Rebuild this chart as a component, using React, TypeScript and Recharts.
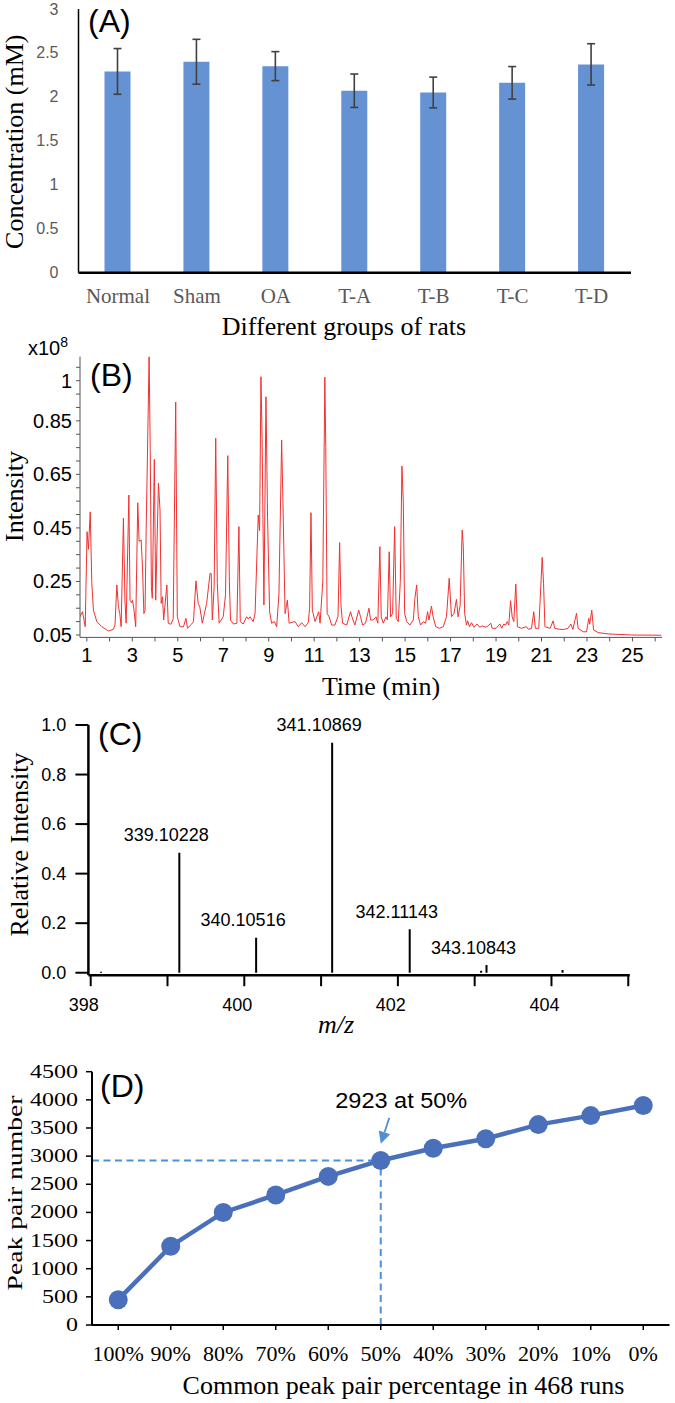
import React from 'react';
import {
  BarChart, Bar, XAxis, YAxis, ErrorBar, LineChart, Line, ComposedChart,
  ReferenceLine, ReferenceDot, LabelList,
} from 'recharts';

const SERIF = '"Liberation Serif", "Times New Roman", serif';
const SANS = '"Liberation Sans", Arial, sans-serif';

// ---------- Panel A ----------
const ratGroups = ['Normal', 'Sham', 'OA', 'T-A', 'T-B', 'T-C', 'T-D'];
const concMean = [2.29, 2.4, 2.35, 2.07, 2.05, 2.16, 2.37];
const concErr = [0.26, 0.255, 0.165, 0.19, 0.175, 0.185, 0.235];
const concTicks = [0, 0.5, 1, 1.5, 2, 2.5, 3];

// ---------- Panel B ----------
const ticPoints: [number, number][] = [
  [0.7, 0.118], [0.81, 0.137], [0.93, 0.081], [1.01, 0.436], [1.07, 0.37], [1.15, 0.51],
  [1.22, 0.243], [1.29, 0.143], [1.44, 0.1], [1.66, 0.081], [1.95, 0.065], [2.17, 0.071],
  [2.24, 0.087], [2.32, 0.237], [2.39, 0.156], [2.45, 0.13], [2.51, 0.081], [2.61, 0.486],
  [2.68, 0.17], [2.73, 0.094], [2.85, 0.573], [2.9, 0.18], [2.97, 0.17], [3.01, 0.18],
  [3.08, 0.14], [3.15, 0.081], [3.24, 0.544], [3.3, 0.4], [3.39, 0.405], [3.45, 0.3],
  [3.51, 0.13], [3.56, 0.14], [3.61, 0.44], [3.74, 1.09], [3.79, 0.74], [3.84, 0.23],
  [3.88, 0.187], [3.97, 0.706], [4.03, 0.18], [4.15, 0.617], [4.22, 0.517], [4.27, 0.168],
  [4.33, 0.193], [4.38, 0.106], [4.52, 0.237], [4.58, 0.094], [4.7, 0.09], [4.8, 0.11],
  [4.91, 0.92], [4.98, 0.118], [5.1, 0.081], [5.25, 0.081], [5.36, 0.112], [5.43, 0.075],
  [5.6, 0.09], [5.69, 0.1], [5.8, 0.252], [5.9, 0.168], [5.97, 0.155], [6.08, 0.094],
  [6.27, 0.168], [6.42, 0.28], [6.47, 0.28], [6.52, 0.106], [6.6, 0.23], [6.67, 0.785],
  [6.74, 0.243], [6.82, 0.094], [7.0, 0.118], [7.1, 0.2], [7.2, 0.72], [7.27, 0.25],
  [7.32, 0.106], [7.45, 0.091], [7.6, 0.094], [7.69, 0.455], [7.75, 0.1], [7.88, 0.091],
  [8.03, 0.118], [8.1, 0.11], [8.18, 0.118], [8.32, 0.1], [8.4, 0.13], [8.54, 0.498],
  [8.6, 0.44], [8.66, 1.015], [8.71, 0.78], [8.79, 0.162], [8.88, 0.94], [8.95, 0.49],
  [9.04, 0.137], [9.13, 0.094], [9.25, 0.1], [9.35, 0.081], [9.45, 0.2], [9.57, 0.778],
  [9.64, 0.49], [9.72, 0.13], [9.82, 0.18], [9.9, 0.094], [10.16, 0.1], [10.3, 0.081],
  [10.45, 0.096], [10.6, 0.081], [10.74, 0.096], [10.8, 0.15], [10.86, 0.507], [10.92, 0.143],
  [11.04, 0.1], [11.2, 0.137], [11.26, 0.094], [11.38, 0.25], [11.47, 1.013], [11.51, 0.75],
  [11.57, 0.13], [11.66, 0.118], [11.77, 0.087], [11.91, 0.087], [12.05, 0.12], [12.12, 0.395],
  [12.18, 0.16], [12.25, 0.094], [12.43, 0.087], [12.6, 0.137], [12.66, 0.118], [12.79, 0.087],
  [12.96, 0.143], [13.04, 0.118], [13.13, 0.087], [13.26, 0.094], [13.41, 0.15], [13.48, 0.106],
  [13.6, 0.106], [13.72, 0.118], [13.8, 0.094], [13.89, 0.38], [13.95, 0.118], [14.04, 0.094],
  [14.16, 0.118], [14.22, 0.106], [14.3, 0.361], [14.36, 0.118], [14.45, 0.13], [14.54, 0.455],
  [14.61, 0.112], [14.7, 0.1], [14.79, 0.25], [14.86, 0.681], [14.92, 0.55], [14.98, 0.13],
  [15.07, 0.1], [15.21, 0.087], [15.36, 0.106], [15.43, 0.187], [15.51, 0.237], [15.58, 0.118],
  [15.68, 0.087], [15.8, 0.1], [15.9, 0.094], [15.99, 0.137], [16.05, 0.106], [16.16, 0.158],
  [16.23, 0.118], [16.35, 0.081], [16.5, 0.075], [16.68, 0.081], [16.82, 0.118], [16.94, 0.262],
  [17.04, 0.118], [17.15, 0.13], [17.26, 0.183], [17.33, 0.118], [17.42, 0.16], [17.51, 0.442],
  [17.56, 0.38], [17.62, 0.13], [17.7, 0.087], [17.75, 0.103], [17.83, 0.081], [17.92, 0.096],
  [18.03, 0.079], [18.17, 0.091], [18.28, 0.079], [18.39, 0.084], [18.55, 0.079], [18.65, 0.084],
  [18.77, 0.094], [18.83, 0.075], [19.0, 0.075], [19.17, 0.091], [19.25, 0.075], [19.34, 0.091],
  [19.42, 0.087], [19.49, 0.1], [19.56, 0.087], [19.64, 0.178], [19.71, 0.118], [19.78, 0.1],
  [19.87, 0.24], [19.94, 0.081], [20.12, 0.075], [20.34, 0.081], [20.42, 0.071], [20.56, 0.075],
  [20.66, 0.137], [20.73, 0.075], [20.88, 0.075], [21.03, 0.34], [21.09, 0.243], [21.15, 0.081],
  [21.38, 0.075], [21.51, 0.103], [21.58, 0.075], [21.8, 0.071], [22.0, 0.071], [22.17, 0.075],
  [22.29, 0.091], [22.38, 0.071], [22.54, 0.131], [22.61, 0.075], [22.83, 0.062], [22.98, 0.062],
  [23.08, 0.112], [23.12, 0.09], [23.21, 0.143], [23.29, 0.069], [23.49, 0.059], [23.93, 0.054],
  [24.96, 0.05], [26.27, 0.049],
];
const timeTicks = [1, 2, 3, 4, 5, 6, 7, 8, 9, 10, 11, 12, 13, 14, 15, 16, 17, 18, 19, 20, 21, 22, 23, 24, 25, 26];
const timeLabelled = [1, 3, 5, 7, 9, 11, 13, 15, 17, 19, 21, 23, 25];
const intensityTicks = [0.05, 0.1, 0.15, 0.2, 0.25, 0.3, 0.35, 0.4, 0.45, 0.5, 0.55, 0.6, 0.65, 0.7, 0.75, 0.8, 0.85, 0.9, 0.95, 1, 1.05];
const intensityLabelled = ['0.05', '0.25', '0.45', '0.65', '0.85', '1'];

// ---------- Panel C ----------
const mzValues = [398.13, 399.15, 400.15, 401.14, 402.15, 403.08, 403.15, 404.14];
const mzRelInt = [0.004, 0.484, 0.141, 0.928, 0.175, 0.008, 0.031, 0.011];
const mzLabels = ['', '339.10228', '340.10516', '341.10869', '342.11143', '', '343.10843', ''];
const mzTicks = [398, 399, 400, 401, 402, 403, 404, 405];
const mzLabelled = [398, 400, 402, 404];
const relTicks = [0, 0.2, 0.4, 0.6, 0.8, 1];

// ---------- Panel D ----------
const pctCats = ['100%', '90%', '80%', '70%', '60%', '50%', '40%', '30%', '20%', '10%', '0%'];
const pairCounts = [450, 1400, 2000, 2310, 2640, 2923, 3140, 3310, 3560, 3720, 3900];
const pairTicks = [0, 500, 1000, 1500, 2000, 2500, 3000, 3500, 4000, 4500];
const highlightCat = '50%';
const highlightValue = 2923;
const highlightText = '2923 at 50%';

const barData = ratGroups.map((g, i) => ({ group: g, mean: concMean[i], err: concErr[i] }));
const ticData = ticPoints.map(([t, v]) => ({ t, v }));
const msData = mzValues.map((mz, i) => ({ mz, ri: mzRelInt[i], label: mzLabels[i] }));
const pairData = pctCats.map((p, i) => ({ pct: p, count: pairCounts[i] }));

const BAR_BLUE = '#6592d3';
const LINE_BLUE = '#4a70bb';
const DASH_BLUE = '#4f8fda';

// ---------- tick renderers ----------
const AXTick = (p: any) => (
  <text x={p.x} y={p.y + 30} textAnchor="middle" fontFamily={SERIF} fontSize={21} fill="#595959">
    {p.payload.value}
  </text>
);
const AYTick = (p: any) => (
  <text x={p.x - 20} y={p.y} textAnchor="end" dominantBaseline="central" fontFamily={SANS} fontSize={16} fill="#595959">
    {String(p.payload.value)}
  </text>
);
const BXTick = (p: any) =>
  timeLabelled.includes(p.payload.value) ? (
    <text x={p.x} y={p.y + 21} textAnchor="middle" fontFamily={SANS} fontSize={20} fill="#000">
      {String(p.payload.value)}
    </text>
  ) : <g />;
const BYTick = (p: any) => {
  const s = String(Math.round(p.payload.value * 100) / 100);
  return intensityLabelled.includes(s) ? (
    <text x={p.x - 4} y={p.y} textAnchor="end" dominantBaseline="central" fontFamily={SANS} fontSize={20} fill="#000">
      {s}
    </text>
  ) : <g />;
};
const CXTick = (p: any) =>
  mzLabelled.includes(p.payload.value) ? (
    <text x={p.x - 7} y={p.y + 25} textAnchor="middle" fontFamily={SANS} fontSize={18} fill="#000">
      {String(p.payload.value)}
    </text>
  ) : <g />;
const CYTick = (p: any) => (
  <text x={p.x - 9} y={p.y} textAnchor="end" dominantBaseline="central" fontFamily={SANS} fontSize={18} fill="#000">
    {Number(p.payload.value).toFixed(1)}
  </text>
);
const DXTick = (p: any) => (
  <text x={p.x} y={p.y + 31} textAnchor="middle" fontFamily={SERIF} fontSize={22} fill="#000">
    {p.payload.value}
  </text>
);
const DYTick = (p: any) => {
  const s = String(p.payload.value);
  return (
    <text x={p.x - 8} y={p.y} textAnchor="end" dominantBaseline="central" fontFamily={SERIF} fontSize={18}
      fill="#000" textLength={s.length * 12} lengthAdjust="spacingAndGlyphs">
      {s}
    </text>
  );
};

const MsLabel = (p: any) => {
  if (!p.value) return <g />;
  const cx = p.x + p.width / 2 - 13;
  return (
    <text x={cx} y={p.y - 11.5} textAnchor="middle" fontFamily={SANS} fontSize={18} fill="#000">
      {p.value}
    </text>
  );
};

const HalfDash = (p: any) => {
  const idx = pctCats.indexOf(highlightCat);
  const f = (idx + 0.5) / pctCats.length;
  const xEnd = p.x1 + f * (p.x2 - p.x1);
  return <line x1={p.x1} y1={p.y1} x2={xEnd} y2={p.y2} stroke={DASH_BLUE} strokeWidth={2} strokeDasharray="7 4.5" />;
};

const Annotation = (p: any) => {
  const vb = p.viewBox || {};
  const cx = vb.x + (vb.width || 0) / 2;
  const cy = vb.y + (vb.height || 0) / 2;
  const tipX = cx, tipY = cy - 16.6;
  const sx = cx + 8.5, sy = cy - 42.6;
  const dx = tipX - sx, dy = tipY - sy;
  const len = Math.hypot(dx, dy);
  const ux = dx / len, uy = dy / len;
  const bx = tipX - ux * 12, by = tipY - uy * 12;
  const px = -uy, py = ux;
  return (
    <g>
      <line x1={sx} y1={sy} x2={bx} y2={by} stroke={DASH_BLUE} strokeWidth={1.8} />
      <polygon
        points={`${tipX},${tipY} ${bx + px * 6},${by + py * 6} ${bx - px * 6},${by - py * 6}`}
        fill={DASH_BLUE}
      />
      <text x={cx + 20.5} y={cy - 52} textAnchor="middle" fontFamily={SANS} fontSize={22} fill="#000"
        textLength={132} lengthAdjust="spacingAndGlyphs">
        {highlightText}
      </text>
    </g>
  );
};

const abs = (top: number): React.CSSProperties => ({ position: 'absolute', left: 0, top });

export default function App() {
  return (
    <div style={{ position: 'absolute', left: 0, top: 0, width: 675, height: 1403, overflow: 'hidden', background: '#fff' }}>
      {/* Panel A */}
      <div style={abs(0)}>
        <BarChart width={675} height={345} data={barData} margin={{ top: 9, right: 44, left: 0, bottom: 0 }}>
          <XAxis dataKey="group" height={72.3} tickLine={false} tickSize={0} tickMargin={0}
            axisLine={{ stroke: '#000', strokeWidth: 2.5 }} tick={AXTick} interval={0} />
          <YAxis width={78.5} domain={[0, 3]} ticks={concTicks} tickLine={false} tickSize={0} tickMargin={0}
            axisLine={{ stroke: '#000', strokeWidth: 1.5 }} tick={AYTick} interval={0} />
          <Bar dataKey="mean" fill={BAR_BLUE} barSize={26} isAnimationActive={false}>
            <ErrorBar dataKey="err" width={4} stroke="#404040" strokeWidth={1.6} isAnimationActive={false} />
          </Bar>
        </BarChart>
      </div>

      {/* Panel B */}
      <div style={abs(340)}>
        <LineChart width={675} height={340} data={ticData} margin={{ top: 16.6, right: 13, left: 0, bottom: 12.6 }}>
          <XAxis type="number" dataKey="t" domain={[0.7, 26.3]} allowDataOverflow ticks={timeTicks} interval={0}
            height={30} tickSize={4} tickMargin={0} tickLine={{ stroke: '#555' }}
            axisLine={{ stroke: '#555', strokeWidth: 1 }} tick={BXTick} />
          <YAxis type="number" domain={[0.041, 1.09]} allowDataOverflow ticks={intensityTicks} interval={0}
            width={80} tickSize={4} tickMargin={0} tickLine={{ stroke: '#555' }}
            axisLine={{ stroke: '#555', strokeWidth: 1 }} tick={BYTick} />
          <Line type="linear" dataKey="v" stroke="#f23030" strokeWidth={1} dot={false} isAnimationActive={false} />
        </LineChart>
      </div>

      {/* Panel C */}
      <div style={abs(680)}>
        <ComposedChart width={675} height={365} data={msData} margin={{ top: 45, right: 45.2, left: 0, bottom: 29.8 }}>
          <XAxis type="number" dataKey="mz" domain={[397.97, 405.02]} allowDataOverflow ticks={mzTicks} interval={0}
            height={40} tickSize={11} tickMargin={0} tickLine={{ stroke: '#000', strokeWidth: 2 }}
            axisLine={{ stroke: '#000', strokeWidth: 2.5 }} tick={CXTick} />
          <YAxis type="number" domain={[-0.01, 1]} allowDataOverflow ticks={relTicks} interval={0}
            width={88.4} tickSize={13} tickMargin={0} tickLine={{ stroke: '#000', strokeWidth: 2 }}
            axisLine={{ stroke: '#000', strokeWidth: 2.5 }} tick={CYTick} />
          <Bar dataKey="ri" fill="#000" barSize={2} isAnimationActive={false}>
            <LabelList dataKey="label" content={MsLabel} />
          </Bar>
        </ComposedChart>
      </div>

      {/* Panel D */}
      <div style={abs(1045)}>
        <LineChart width={675} height={358} data={pairData} margin={{ top: 26.7, right: 5.5, left: 0, bottom: 28 }}>
          <XAxis dataKey="pct" height={50} tickSize={5} tickMargin={0} interval={0} padding={{ left: 26.25, right: 26.25 }}
            tickLine={{ stroke: '#000', strokeWidth: 1.5 }} axisLine={{ stroke: '#000', strokeWidth: 2 }} tick={DXTick} />
          <YAxis domain={[0, 4500]} ticks={pairTicks} interval={0} width={92} tickSize={6} tickMargin={0}
            tickLine={{ stroke: '#000', strokeWidth: 1.5 }} axisLine={{ stroke: '#000', strokeWidth: 2 }} tick={DYTick} />
          <ReferenceLine y={highlightValue} shape={HalfDash} />
          <ReferenceLine segment={[{ x: highlightCat, y: 0 }, { x: highlightCat, y: highlightValue }]}
            stroke={DASH_BLUE} strokeWidth={2} strokeDasharray="7 4.5" />
          <Line type="linear" dataKey="count" stroke={LINE_BLUE} strokeWidth={4.5}
            dot={{ r: 9.5, fill: LINE_BLUE, stroke: LINE_BLUE, strokeWidth: 0 }} isAnimationActive={false} />
          <ReferenceDot x={highlightCat} y={highlightValue} r={9} fill="none" stroke="none" label={Annotation} />
        </LineChart>
      </div>

      {/* Titles & panel letters */}
      <svg width={675} height={1403} style={{ position: 'absolute', left: 0, top: 0, pointerEvents: 'none' }}>
        <text x={88} y={32} fontFamily={SANS} fontSize={32} fill="#000">(A)</text>
        <text x={23} y={141.7} transform="rotate(-90 23 141.7)" textAnchor="middle" fontFamily={SERIF} fontSize={26} fill="#000">
          Concentration (mM)
        </text>
        <text x={344} y={335} textAnchor="middle" fontFamily={SERIF} fontSize={26} fill="#000">Different groups of rats</text>

        <text x={28} y={355} fontFamily={SANS} fontSize={20} fill="#000">
          x10<tspan fontSize={14} dy={-8}>8</tspan>
        </text>
        <text x={90} y={386} fontFamily={SANS} fontSize={32} fill="#000">(B)</text>
        <text x={23} y={496.5} transform="rotate(-90 23 496.5)" textAnchor="middle" fontFamily={SERIF} fontSize={26} fill="#000">
          Intensity
        </text>
        <text x={381} y={695} textAnchor="middle" fontFamily={SERIF} fontSize={26} fill="#000">Time (min)</text>

        <text x={98} y={745} fontFamily={SANS} fontSize={32} fill="#000">(C)</text>
        <text x={28} y={844.5} transform="rotate(-90 28 844.5)" textAnchor="middle" fontFamily={SERIF} fontSize={26} fill="#000">
          Relative Intensity
        </text>
        <text x={336} y={1033} textAnchor="middle" fontFamily={SERIF} fontStyle="italic" fontSize={26} fill="#000">m/z</text>

        <text x={100} y={1097} fontFamily={SANS} fontSize={32} fill="#000">(D)</text>
        <text x={22} y={1193} transform="rotate(-90 22 1193)" textAnchor="middle" fontFamily={SERIF} fontSize={22} fill="#000"
          textLength={195} lengthAdjust="spacingAndGlyphs">
          Peak pair number
        </text>
        <text x={403.5} y={1394} textAnchor="middle" fontFamily={SERIF} fontSize={26} fill="#000">
          Common peak pair percentage in 468 runs
        </text>
      </svg>
    </div>
  );
}
